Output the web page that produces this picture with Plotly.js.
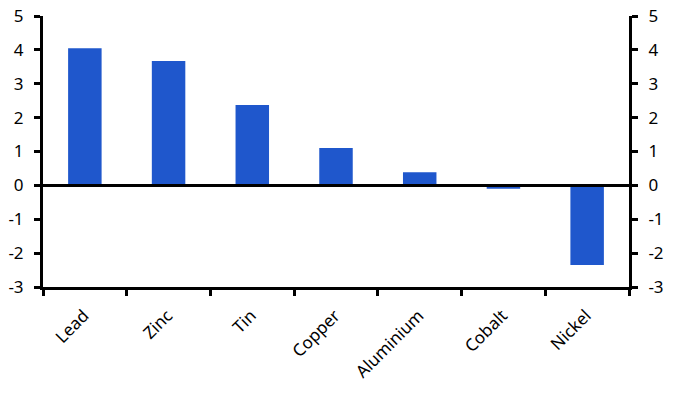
<!DOCTYPE html>
<html>
<head>
<meta charset="utf-8">
<script src="https://cdn.plot.ly/plotly-3.0.1.min.js"></script>
<style>html,body{margin:0;padding:0;background:#fff;}#chart{width:674px;height:394px;}</style>
</head>
<body>
<div id="chart"></div>
<script>
const categories = ["Lead", "Zinc", "Tin", "Copper", "Aluminium", "Cobalt", "Nickel"];
const values = [4.05, 3.67, 2.37, 1.1, 0.39, -0.1, -2.35];
const yTicks = [-3, -2, -1, 0, 1, 2, 3, 4, 5];

const font = {family: "Noto Sans, Open Sans, sans-serif", size: 17, color: "#000"};

const traces = [
  {type: "bar", x: categories, y: values, marker: {color: "#1f57cc"}, width: 0.4, hoverinfo: "skip"},
  {type: "bar", x: categories, y: values, yaxis: "y2", marker: {color: "rgba(0,0,0,0)"}, width: 0.4, hoverinfo: "skip", showlegend: false}
];

const yCommon = {
  range: [-3, 5], tickmode: "array", tickvals: yTicks, ticktext: yTicks.map(String),
  showgrid: false, zeroline: false, showline: true, linecolor: "#000", linewidth: 3,
  ticks: "outside", ticklen: 6, tickwidth: 3, tickcolor: "#000", tickfont: font,
  ticklabelstandoff: 7, fixedrange: true
};

const layout = {
  width: 674, height: 394,
  margin: {l: 43, r: 45, t: 16, b: 107},
  paper_bgcolor: "#fff", plot_bgcolor: "#fff",
  showlegend: false, barmode: "overlay",
  font: font,
  xaxis: {
    type: "category", tickson: "boundaries", ticks: "outside", ticklen: 6, tickwidth: 3,
    tickcolor: "#000", showline: true, linecolor: "#000", linewidth: 3, showgrid: false,
    tickangle: -45, tickfont: font, ticklabelshift: -1, ticklabelstandoff: 9, fixedrange: true
  },
  yaxis: Object.assign({}, yCommon, {side: "left"}),
  yaxis2: Object.assign({}, yCommon, {side: "right", overlaying: "y"}),
  shapes: [{type: "line", xref: "paper", x0: 0, x1: 1, yref: "y", y0: 0, y1: 0, line: {color: "#000", width: 3}}]
};

Plotly.newPlot("chart", traces, layout, {staticPlot: true, displayModeBar: false});
</script>
</body>
</html>
